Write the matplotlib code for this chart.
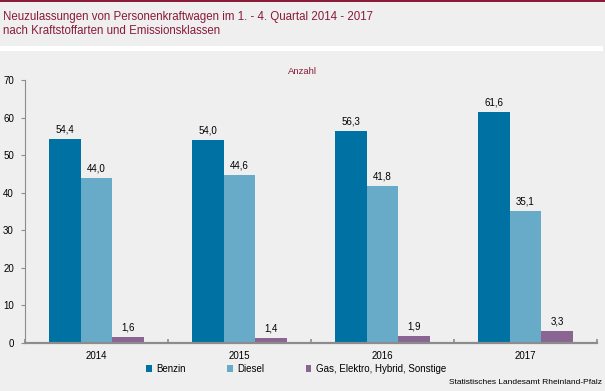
import matplotlib
matplotlib.use("Agg")
import matplotlib.pyplot as plt
import numpy as np
from matplotlib.patches import Rectangle

# Daten
jahre = ["2014", "2015", "2016", "2017"]
benzin = [54.4, 54.0, 56.3, 61.6]
diesel = [44.0, 44.6, 41.8, 35.1]
sonstige = [1.6, 1.4, 1.9, 3.3]
serien = ["Benzin", "Diesel", "Gas, Elektro, Hybrid, Sonstige"]

farben = ["#0071a3", "#67abc9", "#8b6592"]
bg = "#eeefee"
rot = "#8a1b3a"

plt.rcParams['font.family'] = ['Liberation Sans', 'DejaVu Sans']

fig = plt.figure(figsize=(6.05, 3.91), dpi=100)
fig.patch.set_facecolor(bg)

W, H = 605, 391
def fx(px):
    return px / W
def fy(py):
    return 1 - py / H

# Kopfbereich
fig.patches.append(Rectangle((0, fy(2)), 1, 2 / H, transform=fig.transFigure,
                             facecolor=rot, edgecolor='none', zorder=0))
fig.patches.append(Rectangle((0, fy(51)), fx(603), 5 / H, transform=fig.transFigure,
                             facecolor='white', edgecolor='none', zorder=0))
fig.text(fx(3), fy(17), "Neuzulassungen von Personenkraftwagen im 1. - 4. Quartal 2014 - 2017",
         color=rot, fontsize=8.3, va='center', ha='left')
fig.text(fx(3), fy(31), "nach Kraftstoffarten und Emissionsklassen",
         color=rot, fontsize=8.3, va='center', ha='left')
fig.text(fx(302), fy(71), "Anzahl", color=rot, fontsize=6.8, va='center', ha='center')

ax = fig.add_axes([fx(25), fy(343), fx(597) - fx(25), fy(80) - fy(343)])
ax.set_facecolor(bg)

x = np.arange(len(jahre))
bw = 0.223
for i, (werte, farbe, name) in enumerate(zip([benzin, diesel, sonstige], farben, serien)):
    pos = x + (i - 1) * bw
    ax.bar(pos, werte, width=bw, color=farbe, label=name, zorder=2)
    for p, v in zip(pos, werte):
        ax.text(p, v + 1.2, f"{v:.1f}".replace(".", ","), ha='center', va='bottom',
                fontsize=7, color='black')

ax.set_xlim(-0.5, len(jahre) - 0.5)
ax.set_ylim(0, 70)
ax.set_yticks(range(0, 71, 10))
ax.set_xticks(x)
ax.set_xticklabels(jahre)
ax.set_xticks(np.arange(-0.5, len(jahre), 1), minor=True)

for s in ['top', 'right']:
    ax.spines[s].set_visible(False)
ax.spines['left'].set_color('#8c8c8c')
ax.spines['bottom'].set_color('#8c8c8c')
ax.spines['bottom'].set_linewidth(1.6)
ax.tick_params(axis='y', colors='#8c8c8c', labelcolor='black', labelsize=7,
               length=3, width=0.8, pad=5)
ax.tick_params(axis='x', which='major', length=0, labelsize=7, labelcolor='black', pad=6)
ax.tick_params(axis='x', which='minor', length=3, width=1.2, colors='#8c8c8c', direction='in')

leg = fig.legend(loc='center left', bbox_to_anchor=(fx(146), fy(369)), ncol=3, frameon=False,
                 fontsize=7, handlelength=0.6, handleheight=0.6, handletextpad=0.5,
                 columnspacing=4.2, borderaxespad=0, borderpad=0)

fig.text(fx(602), fy(382), "Statistisches Landesamt Rheinland-Pfalz", fontsize=6,
         ha='right', va='center', color='black')

fig.savefig("out.png", dpi=100, facecolor=bg)
